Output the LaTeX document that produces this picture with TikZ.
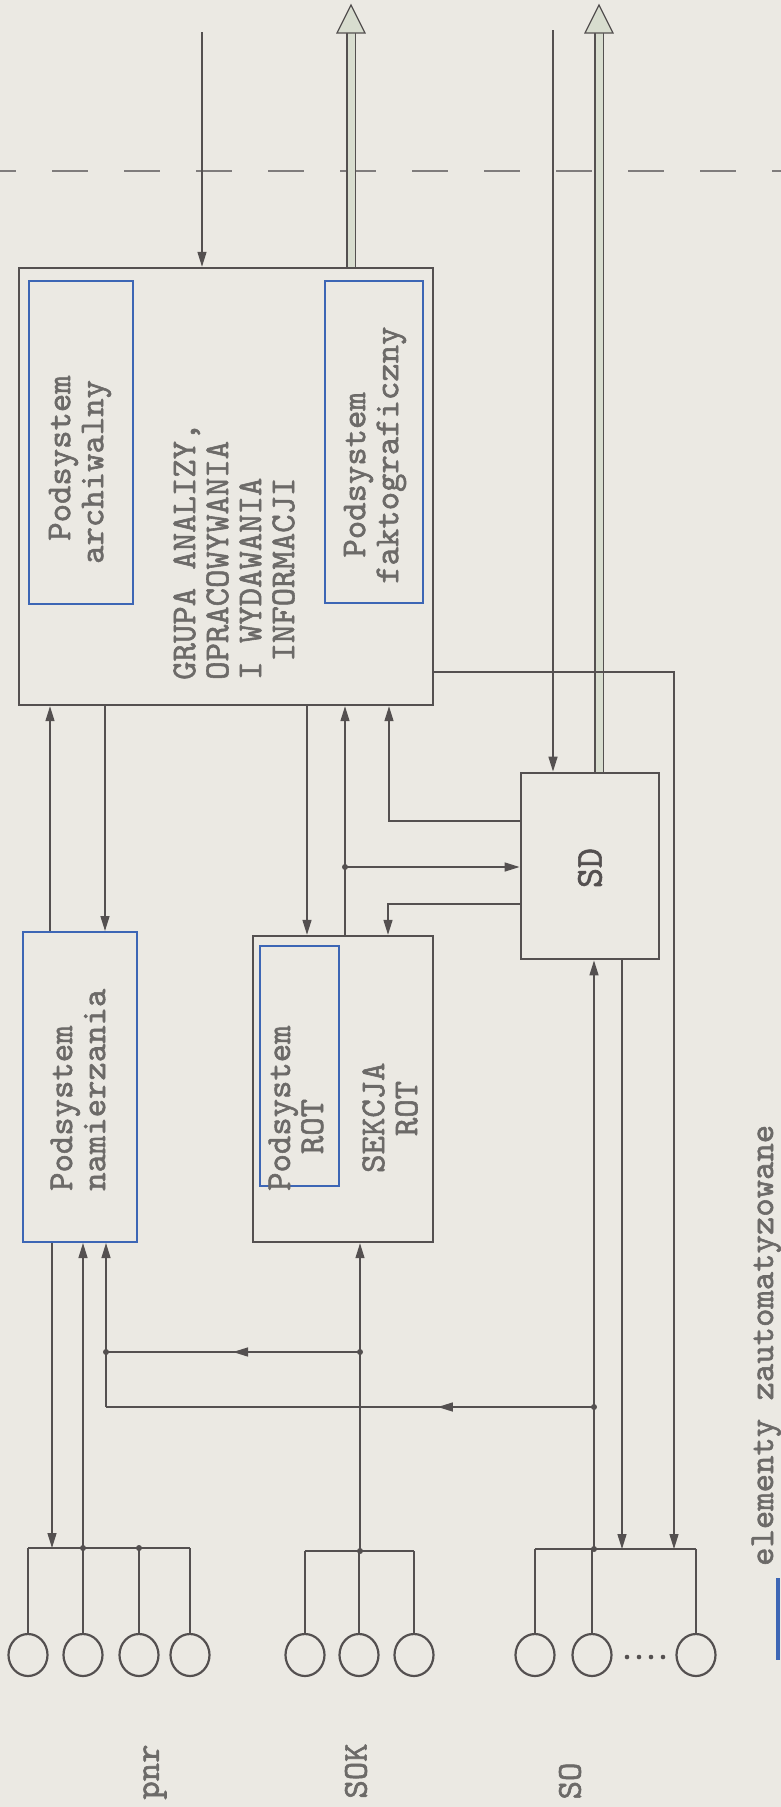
\documentclass[tikz,border=0pt]{standalone}
\usepackage{fontspec}
\newfontfamily\twfont{lmmono10-regular.otf}[FakeBold=1.6]
\usetikzlibrary{arrows.meta,shapes.geometric,decorations.markings,calc}
\definecolor{bg}{HTML}{EBE9E3}
\definecolor{ink}{HTML}{545050}
\definecolor{txt}{HTML}{6C6A68}
\definecolor{bl}{HTML}{3D66B5}
\definecolor{pale}{HTML}{D8DDCF}
\tikzset{
  bigbox/.style={draw=ink, line width=2.4pt, rectangle, inner sep=0pt},
  bluebox/.style={draw=bl, line width=2pt, rectangle, inner sep=0pt},
  lbl/.style={text=txt, font=\twfont\fontsize{35}{33}\selectfont, rotate=90, inner sep=0pt},
  conn/.style={draw=ink, line width=1.4pt},
  arr/.style={conn, -{Triangle[length=15pt,width=9pt]}},
  jdot/.style={circle, fill=ink, inner sep=0pt, minimum size=6pt},
  ant/.style={ellipse, draw=ink, line width=2.2pt, minimum width=39pt, minimum height=42pt, inner sep=0pt},
  hollow/.style={draw=ink, line width=1.1pt, double=pale, double distance=7pt},
  hhead/.style={fill=pale, draw=ink, line width=1.2pt, line join=miter},
  midarrow/.style={postaction={decorate}, decoration={markings, mark=at position #1 with {\arrow{Triangle[length=15pt,width=9pt]}}}},
}
\begin{document}
\begin{tikzpicture}[x=1pt,y=-1pt]
\fill[bg] (0,0) rectangle (781,1807);
\useasboundingbox (0,0) rectangle (781,1807);

% dashed boundary
\draw[ink!75, line width=1.8pt, dash pattern=on 36pt off 36pt, dash phase=20pt] (0,171) -- (781,171);

% boxes
\node[bigbox, minimum width=414pt, minimum height=437pt] (grupa) at (226,486.5) {};
\node[bluebox, minimum width=104pt, minimum height=323pt] (arch) at (81,442.5) {};
\node[bluebox, minimum width=98pt, minimum height=322pt] (fakt) at (374,442) {};
\node[bluebox, minimum width=114pt, minimum height=310pt] (namier) at (80,1087) {};
\node[bigbox, minimum width=180pt, minimum height=306pt] (sekcja) at (343,1089) {};
\node[bluebox, minimum width=79pt, minimum height=240pt] (rotsub) at (299.5,1066) {};
\node[bigbox, line width=2.8pt, minimum width=138pt, minimum height=186pt] (sd) at (590,866) {};

% texts
\node[lbl, align=left, anchor=west] (tarch) at (80,564) {\hspace*{0.66em}Podsystem\\archiwalny};
\node[lbl, align=left, anchor=west] (tfakt) at (375,584) {\hspace*{0.75em}Podsystem\\faktograficzny};
\node[lbl, align=left, anchor=west] (tgrupa) at (234,680) {GRUPA ANALIZY,\\OPRACOWYWANIA\\I WYDAWANIA\\\hspace*{0.525em}INFORMACJI};
\node[lbl, align=left, anchor=west] (tnam) at (78,1191) {Podsystem\\namierzania};
\node[lbl, align=left, anchor=west] (trot) at (296,1191) {Podsystem\\\hspace*{1.05em}ROT};
\node[lbl, align=left, anchor=west] (tsek) at (390,1173) {SEKCJA\\\hspace*{1.05em}ROT};
\node[lbl, text=ink, font=\twfont\fontsize{38}{36}\selectfont] (tsd) at (590,868) {SD};
\node[lbl] (tpnr) at (155,1772) {pnr};
\node[lbl] (tsok) at (356,1771) {SOK};
\node[lbl] (tso) at (570,1781) {SO};

% legend
\node[lbl, anchor=base west] (tleg) at (773,1566) {elementy zautomatyzowane};
\coordinate (legA) at (778,1578);
\coordinate (legB) at (778,1660);
\draw[bl, line width=4pt] (legA) -- (legB);

% antennas
\foreach \n/\x in {p1/28,p2/83,p3/139,p4/190,s1/305,s2/359,s3/414,o1/535,o2/592,o3/696}
  \node[ant] (\n) at (\x,1655) {};
\coordinate (pnrbar) at (0,1548);
\coordinate (sokbar) at (0,1551);
\coordinate (sobar) at (0,1549);
\draw[conn, line width=1.6pt] (p1.north |- pnrbar) -- (p4.north |- pnrbar);
\draw[conn, line width=1.6pt] (s1.north |- sokbar) -- (s3.north |- sokbar);
\draw[conn, line width=1.6pt] (o1.north |- sobar) -- (o3.north |- sobar);
\foreach \n in {p1,p2,p3,p4} \draw[conn] (\n.north |- pnrbar) -- (\n.north);
\foreach \n in {s1,s2,s3} \draw[conn] (\n.north |- sokbar) -- (\n.north);
\foreach \n in {o1,o2,o3} \draw[conn] (\n.north |- sobar) -- (\n.north);
\foreach \x in {627,639,651,663} \fill[ink] (\x,1657) circle (2.3pt);

% top connectors
\coordinate (in1) at (202,32);
\draw[arr] (in1) -- (in1 |- grupa.north);
\coordinate (in2) at (553,30);
\draw[arr] (in2) -- (in2 |- sd.north);
\coordinate (out1) at (351,5);
\draw[hollow] (out1 |- grupa.north) -- (351,33);
\draw[hhead] (out1) -- (337,33) -- (365,33) -- cycle;
\coordinate (out2) at (599,5);
\draw[hollow] (out2 |- sd.north) -- (599,33);
\draw[hhead] (out2) -- (585,33) -- (613,33) -- cycle;

% middle connectors
\draw[arr] (50,0 |- namier.north) -- (50,0 |- grupa.south);
\draw[arr] (105,0 |- grupa.south) -- (105,0 |- namier.north);
\draw[arr] (307,0 |- grupa.south) -- (307,0 |- sekcja.north);
\draw[arr] (345,0 |- sekcja.north) -- (345,0 |- grupa.south);
\coordinate (j1) at (345,867);
\draw[arr] (j1) -- (j1 -| sd.west);
\node[jdot] at (j1) {};
\draw[arr] (sd.west |- 0,821) -- (389,821) -- (389,0 |- grupa.south);
\draw[arr] (sd.west |- 0,904) -- (388,904) -- (388,0 |- sekcja.north);
\draw[arr] (grupa.east |- 0,672) -- (674,672) -- (674,0 |- sobar);
\draw[arr] (594,0 |- sobar) -- (594,0 |- sd.south);
\draw[arr] (622,0 |- sd.south) -- (622,0 |- sobar);

% lower connectors
\draw[arr] (52,0 |- namier.south) -- (52,0 |- pnrbar);
\draw[arr] (83,0 |- pnrbar) -- (83,0 |- namier.south);
\coordinate (j2) at (106,1407);
\draw[arr] (j2) -- (106,0 |- namier.south);
\draw[arr] (360,0 |- sokbar) -- (360,0 |- sekcja.south);
\coordinate (j3) at (360,1352);
\coordinate (j4) at (106,1352);
\draw[conn, midarrow=0.5] (j3) -- (j4);
\coordinate (j5) at (594,1407);
\draw[conn, midarrow=0.32] (j5) -- (j2);
\foreach \c in {j3,j4,j5} \node[jdot] at (\c) {};
\node[jdot] at (83,0 |- pnrbar) {};
\node[jdot] at (139,0 |- pnrbar) {};
\node[jdot] at (360,0 |- sokbar) {};
\node[jdot] at (594,0 |- sobar) {};
\end{tikzpicture}
\end{document}
